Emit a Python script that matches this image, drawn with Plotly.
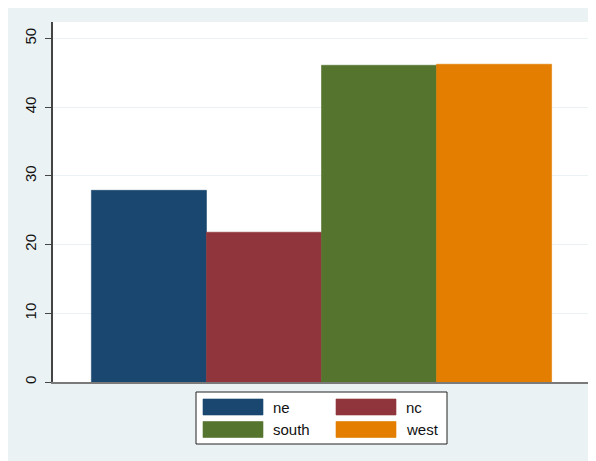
import plotly.graph_objects as go

# ---- data ----
category = ["mean"]
series_names = ["ne", "nc", "south", "west"]
series_values = [27.9, 21.8, 46.1, 46.25]
series_colors = ["#1a476f", "#90353b", "#55752f", "#e37e00"]
y_ticks = [0, 10, 20, 30, 40, 50]

# page has an 8px body margin, so figure coordinates = reference pixels - 8
OFF = 8
W, H = 596 - OFF, 461 - OFF
ML, MR, MT, MB = 53 - OFF, 6, 22 - OFF, 79
PW, PH = W - ML - MR, H - MT - MB


def px(x):
    return (x - OFF - ML) / PW


def py(y):
    return (H - MB - (y - OFF)) / PH


fig = go.Figure()
for name, val, col in zip(series_names, series_values, series_colors):
    fig.add_trace(go.Bar(
        x=category, y=[val], name=name,
        marker=dict(color=col, line=dict(color=col, width=0.6)),
        showlegend=False, hoverinfo="name+y",
    ))

shapes = [
    # legend box
    dict(type="rect", xref="paper", yref="paper",
         x0=px(196), x1=px(447), y0=py(444), y1=py(392),
         fillcolor="white", line=dict(color="#222222", width=1)),
]
annotations = []
col_x = [203, 336]
row_y = [399, 421.5]
for i, (name, col) in enumerate(zip(series_names, series_colors)):
    cx = col_x[i % 2]
    ry = row_y[i // 2]
    shapes.append(dict(type="rect", xref="paper", yref="paper",
                       x0=px(cx), x1=px(cx + 60), y0=py(ry + 16), y1=py(ry),
                       fillcolor=col, line=dict(color=col, width=0.6)))
    annotations.append(dict(xref="paper", yref="paper", x=px(cx + 68), y=py(ry + 8),
                            text=name, showarrow=False, xanchor="left", yanchor="middle",
                            font=dict(size=15, color="#111111")))

fig.update_layout(
    width=W, height=H,
    margin=dict(l=ML, r=MR, t=MT, b=MB, pad=0),
    paper_bgcolor="#eaf2f3", plot_bgcolor="white",
    barmode="group", bargap=0.143, bargroupgap=0,
    font=dict(family="Liberation Sans, Arial, sans-serif", size=15, color="#111111"),
    shapes=shapes, annotations=annotations,
    xaxis=dict(showticklabels=False, ticks="", showgrid=False, zeroline=False,
               showline=True, linecolor="#7a7a7a", linewidth=2),
    yaxis=dict(range=[0, 52.4], tickvals=y_ticks, tickangle=-90,
               ticks="outside", ticklen=6, tickcolor="#444444", tickwidth=1,
               showline=True, linecolor="#444444", linewidth=1.5,
               showgrid=True, gridcolor="#eaf2f3", gridwidth=1, zeroline=False,
               tickfont=dict(size=15, color="#111111"), ticklabelstandoff=3),
)

fig.write_html("out.html")
